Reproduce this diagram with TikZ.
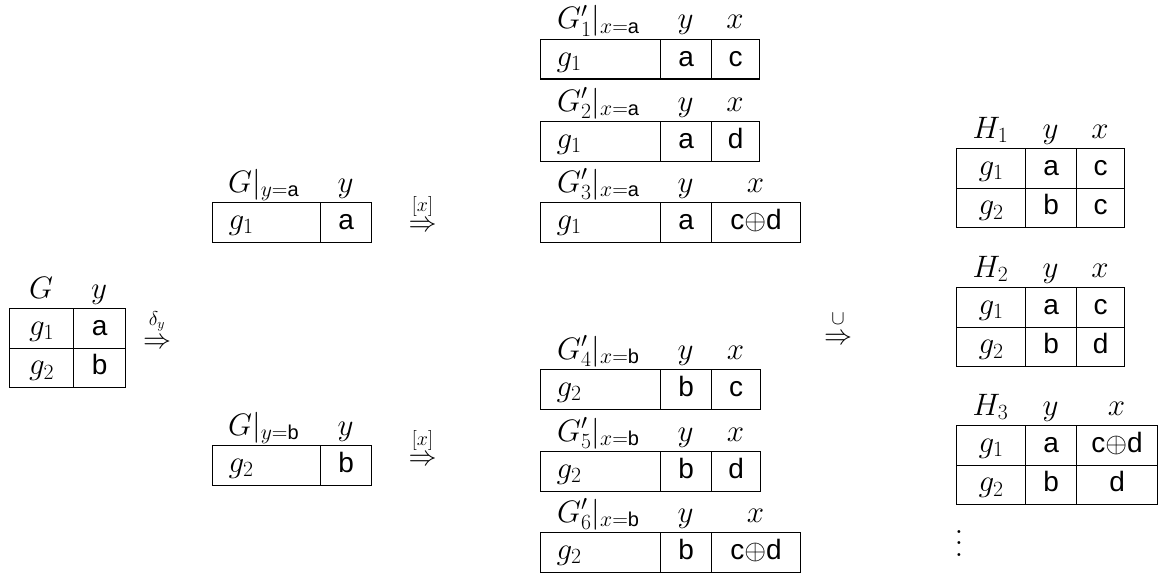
\RequirePackage{fix-cm}
\documentclass[tikz,border=0pt]{standalone}
\usepackage[no-math]{fontspec}
\setsansfont{Liberation Sans}
\newcommand\sv[1]{\textsf{#1}}
\newcommand\ssub[1]{\mbox{\fontsize{20}{22}\sffamily #1}}
\newcommand\mm[1]{{\fontsize{31}{36}\selectfont$#1$}}
\begin{document}
\begin{tikzpicture}[x=1pt,y=-1pt,
  txt/.style={font=\fontsize{28}{34}\selectfont},
  cell/.style={txt,draw,line width=1.1pt,anchor=north west,minimum height=39.5,
    inner sep=0pt,text height=20,text depth=6},
  lcell/.style={cell,inner xsep=16pt,align=left,text width=#1},
  head/.style={txt,inner sep=0pt,anchor=base},
  lhead/.style={txt,inner sep=0pt,anchor=base west},
  step arrow/.style={txt,inner sep=0pt},
  step label/.style={font=\fontsize{20}{22}\selectfont,inner sep=0pt}]
\useasboundingbox (0,0) rectangle (1158,575);

% ---- G ----
\node[head] (hG) at (41,298) {\mm{G}};
\node[head] (hGy) at (99,298) {\mm{y}};
\node[cell,minimum width=64] (G11) at (9,308) {\mm{g_1}};
\node[cell,minimum width=52] (G12) at (73,308) {\sv{a}};
\node[cell,minimum width=64] (G21) at (9,347.5) {\mm{g_2}};
\node[cell,minimum width=52] (G22) at (73,347.5) {\sv{b}};
\node[step arrow] (ar1) at (157,343) {$\Rightarrow$};
\node[step label] (lb1) at (157,321) {$\delta_y$};

% ---- G restricted to y=a and y=b ----
\node[lhead] (hGa) at (228,192) {\mm{G|_{y=\ssub{a}}}};
\node[head] (hGay) at (345.5,192) {\mm{y}};
\node[lcell=76] (Ga1) at (212,202) {\mm{g_1}};
\node[cell,minimum width=51] (Ga2) at (320,202) {\sv{a}};
\node[step arrow] (ar2) at (422.5,226) {$\Rightarrow$};
\node[step label] (lb2) at (422.5,206) {$[x]$};

\node[lhead] (hGb) at (228,435) {\mm{G|_{y=\ssub{b}}}};
\node[head] (hGby) at (345.5,435) {\mm{y}};
\node[lcell=76] (Gb1) at (212,445) {\mm{g_2}};
\node[cell,minimum width=51] (Gb2) at (320,445) {\sv{b}};
\node[step arrow] (ar3) at (422.5,460) {$\Rightarrow$};
\node[step label] (lb3) at (422.5,440) {$[x]$};

% ---- G' tables, branch x = a ----
\foreach \i/\t/\v/\w in {1/39/c/48, 2/121/d/48, 3/202/{c$\oplus$d}/89}{
  \node[lhead] (hP\i) at (557,\t-10) {\mm{G'_{\i}|_{x=\ssub{a}}}};
  \node[head] (hP\i y) at (685.5,\t-10) {\mm{y}};
  \node[head] (hP\i x) at (711+\w/2,\t-10) {\mm{x}};
  \node[lcell=88] (P\i a) at (540,\t) {\mm{g_1}};
  \node[cell,minimum width=51] (P\i b) at (660,\t) {\sv{a}};
  \node[cell,minimum width=\w] (P\i c) at (711,\t) {\sv{\v}};
}

% ---- G' tables, branch x = b ----
\foreach \i/\t/\v/\w in {4/369/c/49, 5/451/d/49, 6/532/{c$\oplus$d}/89}{
  \node[lhead] (hP\i) at (557,\t-10) {\mm{G'_{\i}|_{x=\ssub{b}}}};
  \node[head] (hP\i y) at (685.5,\t-10) {\mm{y}};
  \node[head] (hP\i x) at (711+\w/2,\t-10) {\mm{x}};
  \node[lcell=88] (P\i a) at (540,\t) {\mm{g_2}};
  \node[cell,minimum width=51] (P\i b) at (660,\t) {\sv{b}};
  \node[cell,minimum width=\w] (P\i c) at (711,\t) {\sv{\v}};
}

\node[step arrow] (ar4) at (838,339) {$\Rightarrow$};
\node[step label] (lb4) at (838,319) {$\cup$};

% ---- results H ----
\foreach \i/\t/\u/\v/\w in {1/148/c/c/48, 2/287/c/d/48, 3/425/{c$\oplus$d}/d/81}{
  \node[head] (hH\i) at (990.5,\t-10) {\mm{H_{\i}}};
  \node[head] (hH\i y) at (1050.5,\t-10) {\mm{y}};
  \node[head] (hH\i x) at (1076+\w/2,\t-10) {\mm{x}};
  \node[cell,minimum width=69] (H\i a) at (956,\t) {\mm{g_1}};
  \node[cell,minimum width=51] (H\i b) at (1025,\t) {\sv{a}};
  \node[cell,minimum width=\w] (H\i c) at (1076,\t) {\sv{\u}};
  \node[cell,minimum width=69] (H\i d) at (956,\t+39.5) {\mm{g_2}};
  \node[cell,minimum width=51] (H\i e) at (1025,\t+39.5) {\sv{b}};
  \node[cell,minimum width=\w] (H\i f) at (1076,\t+39.5) {\sv{\v}};
}
% vertical ellipsis, drawn at 10pt and enlarged
\node[font=\normalsize,inner sep=0pt,scale=2.8] (more) at (959,535) {$\vdots$};
\end{tikzpicture}
\end{document}
